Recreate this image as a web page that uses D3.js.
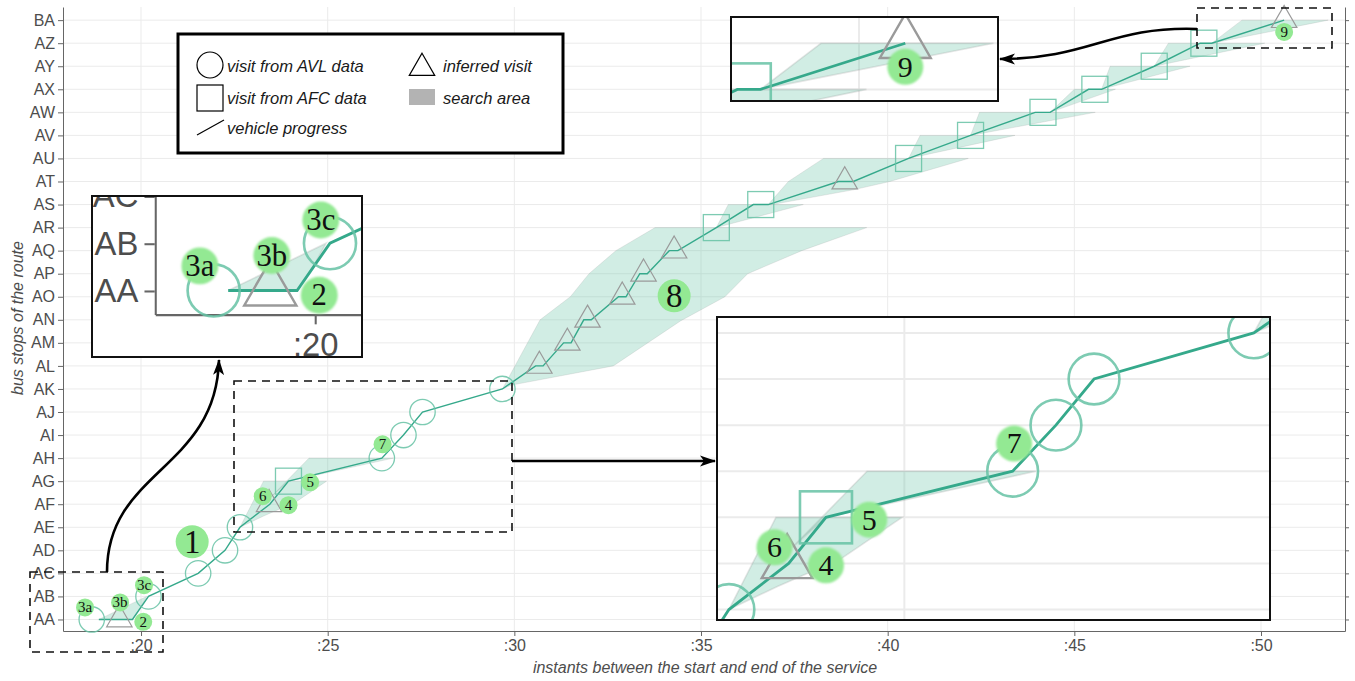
<!DOCTYPE html>
<html>
<head>
<meta charset="utf-8">
<script src="https://cdn.jsdelivr.net/npm/d3@7"></script>
<style>
body { margin: 0; background: #fff; }
svg { display: block; }
</style>
</head>
<body>
<div id="chart"></div>
<script>
// bus stops along the route (index = position on the y axis)
var stops = ["AA","AB","AC","AD","AE","AF","AG","AH","AI","AJ","AK","AL","AM","AN","AO",
             "AP","AQ","AR","AS","AT","AU","AV","AW","AX","AY","AZ","BA"];
var xTicks = [20, 25, 30, 35, 40, 45, 50];

// vehicle progress (minute, stop index)
var progressT = [18.87,19.77,20.2,21.53,22.25,22.65,23.45,23.95,26.45,27.03,27.54,29.68,
                 30.57,30.77,31.32,31.52,31.86,32.06,32.79,32.99,33.36,33.56,34.15,34.38,
                 35.41,36.4,36.8,38.68,39.08,40.56,42.22,43.95,44.35,45.38,45.73,47.14,48.37,48.68,50.62];
var progressS = [0,0,1,2,3,4,5,6,7,8,9,10,
                 11,11,12,12,13,13,14,14,15,15,16,16,
                 17,18,18,19,19,20,21,22,22,23,23,24,25,25,26];

// visits from AVL data
var avlT = [18.68, 20.2, 21.53, 22.25, 22.65, 26.45, 27.03, 27.54, 29.68];
var avlS = [0, 1, 2, 3, 4, 7, 8, 9, 10];

// visits from AFC data
var afcT = [23.95, 35.41, 36.6, 40.56, 42.22, 44.16, 45.55, 47.14, 48.47];
var afcS = [6, 17, 18, 20, 21, 22, 23, 24, 25];

// inferred visits
var infT = [19.42, 23.43, 30.67, 31.42, 31.96, 32.89, 33.46, 34.28, 38.85, 50.62];
var infS = [0, 5, 11, 12, 13, 14, 15, 16, 19, 26];

// search areas, polygons of (minute, stop index)
var searchAreas = [
    [[18.87,0],[20.15,1],[19.98,0.5],[19.77,0]],
    [[22.65,4],[23.28,6],[24.97,6],[24.15,5.1],[23.3,4.5]],
    [[23.5,5.35],[24.5,7],[26.76,7],[23.95,6]],
    [[29.68,10],[30.69,13],[31.5,14],[32.0,15],[32.72,16],[33.77,17],[39.44,17],[37.7,16],
     [36.25,15],[35.64,14],[34.45,12.95],[32.65,11],[29.93,10.17]],
    [[35.41,17],[35.73,18],[37.74,18]],
    [[36.8,18],[37.34,19],[38.28,20],[42.16,20],[40.06,19],[39.08,18.64],[36.9,18]],
    [[40.56,20],[40.87,21],[43.41,21]],
    [[42.22,21],[42.46,22],[45.56,22]],
    [[44.35,22],[45.0,23],[46.1,23]],
    [[45.73,23],[45.96,24],[48.1,24]],
    [[47.14,24],[47.52,25],[50.1,25]],
    [[48.68,25],[49.49,26],[51.8,26]]
];

// numbered annotations
var labelText = ["1","2","3a","3b","3c","4","5","6","7","8","9"];
var labelT = [21.37, 20.06, 18.5, 19.44, 20.08, 23.95, 24.53, 23.26, 26.47, 34.28, 50.62];
var labelS = [3.37, -0.1, 0.52, 0.74, 1.49, 4.96, 5.95, 5.35, 7.6, 14.04, 25.49];
var labelBig = [true, false, false, false, false, false, false, false, false, true, false];

var width = 1355, height = 681;
var teal = "#66c2a5", lineCol = "#35a98b", gray = "#4d4d4d";

var svg = d3.select("#chart").append("svg")
    .attr("width", width)
    .attr("height", height)
    .attr("font-family", "'Liberation Sans', Arial, sans-serif");

var defs = svg.append("defs");
defs.append("filter").attr("id", "soft")
    .append("feGaussianBlur").attr("stdDeviation", 0.6);
defs.append("marker")
    .attr("id", "head")
    .attr("viewBox", "0 -6 16 12")
    .attr("refX", 15).attr("refY", 0)
    .attr("markerWidth", 16).attr("markerHeight", 12)
    .attr("markerUnits", "userSpaceOnUse")
    .attr("orient", "auto")
    .append("path")
    .attr("d", "M0,-5.5L16,0L0,5.5L4,0Z")
    .attr("fill", "#000");

var x = d3.scaleLinear().domain([17.91, 52.25]).range([63, 1345]);
var y = d3.scaleLinear().domain([-0.5, 26.57]).range([631, 7]);

// grid
var grid = svg.append("g").attr("id", "grid");
grid.selectAll(".hgrid").data(d3.range(stops.length)).enter().append("line")
    .attr("x1", 63).attr("x2", 1345)
    .attr("y1", d => y(d)).attr("y2", d => y(d))
    .attr("stroke", "#ebebeb").attr("stroke-width", 1);
grid.selectAll(".vgrid").data(xTicks).enter().append("line")
    .attr("x1", d => x(d)).attr("x2", d => x(d))
    .attr("y1", 7).attr("y2", 631)
    .attr("stroke", "#ebebeb").attr("stroke-width", 1);

// axes
var axes = svg.append("g").attr("id", "axes");
axes.append("g")
    .attr("transform", "translate(63,0)")
    .call(d3.axisLeft(y).tickValues(d3.range(stops.length)).tickFormat(i => stops[i])
        .tickSize(5).tickSizeOuter(0).tickPadding(3));
axes.append("g")
    .attr("transform", "translate(0,631)")
    .call(d3.axisBottom(x).tickValues(xTicks).tickFormat(d => ":" + d)
        .tickSize(5).tickSizeOuter(0).tickPadding(4));
axes.append("g")
    .attr("transform", "translate(1345,0)")
    .call(d3.axisRight(y).tickValues(d3.range(stops.length)).tickFormat("")
        .tickSize(4).tickSizeOuter(0));
axes.selectAll(".domain").attr("stroke", "#666");
axes.selectAll(".tick line").attr("stroke", "#666");
axes.selectAll(".tick text").attr("fill", gray).attr("font-size", 16)
    .attr("font-family", "'Liberation Sans', Arial, sans-serif");

svg.append("text")
    .attr("x", 705).attr("y", 673)
    .attr("text-anchor", "middle")
    .attr("font-size", 16).attr("font-style", "italic").attr("fill", gray)
    .text("instants between the start and end of the service");
svg.append("text")
    .attr("transform", "translate(23,318) rotate(-90)")
    .attr("text-anchor", "middle")
    .attr("font-size", 16).attr("font-style", "italic").attr("fill", gray)
    .text("bus stops of the route");

// marks
var marks = svg.append("g").attr("id", "marks");

marks.append("g").selectAll("path").data(searchAreas).enter().append("path")
    .attr("d", d => "M" + d.map(p => x(p[0]) + "," + y(p[1])).join("L") + "Z")
    .attr("fill", teal).attr("fill-opacity", 0.3)
    .attr("stroke", "#9a9a9a").attr("stroke-opacity", 0.25).attr("stroke-width", 0.8);

var line = d3.line().x(i => x(progressT[i])).y(i => y(progressS[i]));
marks.append("path")
    .attr("d", line(d3.range(progressT.length)))
    .attr("fill", "none").attr("stroke", lineCol).attr("stroke-width", 1.4);

marks.append("g").selectAll("circle").data(avlT).enter().append("circle")
    .attr("cx", d => x(d)).attr("cy", (d, i) => y(avlS[i])).attr("r", 12.7)
    .attr("fill", "none").attr("stroke", teal).attr("stroke-opacity", 0.85).attr("stroke-width", 1.3);

marks.append("g").selectAll("rect").data(afcT).enter().append("rect")
    .attr("x", d => x(d) - 13).attr("y", (d, i) => y(afcS[i]) - 13)
    .attr("width", 26).attr("height", 26)
    .attr("fill", "none").attr("stroke", teal).attr("stroke-opacity", 0.85).attr("stroke-width", 1.3);

var tri = d3.symbol().type(d3.symbolTriangle).size(280);
marks.append("g").selectAll("path").data(infT).enter().append("path")
    .attr("transform", (d, i) => "translate(" + x(d) + "," + y(infS[i]) + ")")
    .attr("d", tri())
    .attr("fill", "none").attr("stroke", "#9a9a9a").attr("stroke-width", 1.2);

var labs = marks.append("g").selectAll("g").data(labelText).enter().append("g")
    .attr("transform", (d, i) => "translate(" + x(labelT[i]) + "," + y(labelS[i]) + ")");
labs.append("circle")
    .attr("r", (d, i) => labelBig[i] ? 16.5 : 9)
    .attr("fill", "#93e993").attr("filter", "url(#soft)");
labs.append("text")
    .attr("text-anchor", "middle")
    .attr("dy", (d, i) => labelBig[i] ? "0.34em" : "0.33em")
    .attr("font-family", "'Liberation Serif', 'Times New Roman', serif")
    .attr("font-size", (d, i) => labelBig[i] ? 33 : 15)
    .attr("fill", "#111")
    .text(d => d);

// zoom regions (dashed boxes) and their insets
var zoomBoxes = [[30, 572, 163, 652], [234, 381, 512, 532], [1197, 8, 1332, 48]];
var insets = [
    { x: 92, y: 196, w: 270, h: 161, k: 2.05, sx: 32.4, sy: 573.4, layers: ["axes", "marks"] },
    { x: 717, y: 317, w: 553, h: 303, k: 2, sx: 234, sy: 381, layers: ["grid", "marks"] },
    { x: 731, y: 17, w: 267, h: 84, k: 2, sx: 1197, sy: 7, layers: ["grid", "marks"] }
];

var annot = svg.append("g");
annot.selectAll(".zbox").data(zoomBoxes).enter().append("rect")
    .attr("x", d => d[0]).attr("y", d => d[1])
    .attr("width", d => d[2] - d[0]).attr("height", d => d[3] - d[1])
    .attr("fill", "none").attr("stroke", "#111").attr("stroke-width", 1.6)
    .attr("stroke-dasharray", "8,6");

insets.forEach(function(ins, n) {
    defs.append("clipPath").attr("id", "clip" + n)
        .append("rect").attr("x", ins.x).attr("y", ins.y).attr("width", ins.w).attr("height", ins.h);
    var g = annot.append("g").attr("clip-path", "url(#clip" + n + ")");
    g.append("rect").attr("x", ins.x).attr("y", ins.y).attr("width", ins.w).attr("height", ins.h)
        .attr("fill", "#fff");
    var tr = "translate(" + (ins.x - ins.sx * ins.k) + "," + (ins.y - ins.sy * ins.k) + ") scale(" + ins.k + ")";
    ins.layers.forEach(function(l) {
        g.append("use").attr("href", "#" + l).attr("transform", tr);
    });
    annot.append("rect").attr("x", ins.x).attr("y", ins.y).attr("width", ins.w).attr("height", ins.h)
        .attr("fill", "none").attr("stroke", "#111").attr("stroke-width", 2);
});

// arrows from boxes to insets
var arrows = [
    "M107,572C107,470 216,470 219,360",
    "M512,461L715,461",
    "M1197,29C1110,26 1090,59 1000,59"
];
annot.selectAll(".arrow").data(arrows).enter().append("path")
    .attr("d", d => d)
    .attr("fill", "none").attr("stroke", "#000").attr("stroke-width", 2.6)
    .attr("marker-end", "url(#head)");

// legend
var leg = svg.append("g").attr("transform", "translate(178,34)");
leg.append("rect").attr("width", 385).attr("height", 119)
    .attr("fill", "#fff").attr("stroke", "#000").attr("stroke-width", 3);
leg.append("circle").attr("cx", 32).attr("cy", 31).attr("r", 13)
    .attr("fill", "none").attr("stroke", "#000").attr("stroke-width", 1.2);
leg.append("rect").attr("x", 19).attr("y", 51).attr("width", 26).attr("height", 26)
    .attr("fill", "none").attr("stroke", "#000").attr("stroke-width", 1.2);
leg.append("line").attr("x1", 19).attr("y1", 101).attr("x2", 46).attr("y2", 86)
    .attr("stroke", "#000").attr("stroke-width", 1.2);
leg.append("path").attr("transform", "translate(244,34)").attr("d", tri())
    .attr("fill", "none").attr("stroke", "#000").attr("stroke-width", 1.2);
leg.append("rect").attr("x", 231).attr("y", 55).attr("width", 26).attr("height", 16)
    .attr("fill", "#b3b3b3");
var legText = [["visit from AVL data", 49, 38], ["visit from AFC data", 49, 70],
               ["vehicle progress", 49, 100], ["inferred visit", 265, 38], ["search area", 265, 70]];
leg.selectAll(".lt").data(legText).enter().append("text")
    .attr("x", d => d[1]).attr("y", d => d[2])
    .attr("font-size", 16.5).attr("font-style", "italic").attr("fill", "#1a1a1a")
    .text(d => d[0]);
</script>
</body>
</html>
